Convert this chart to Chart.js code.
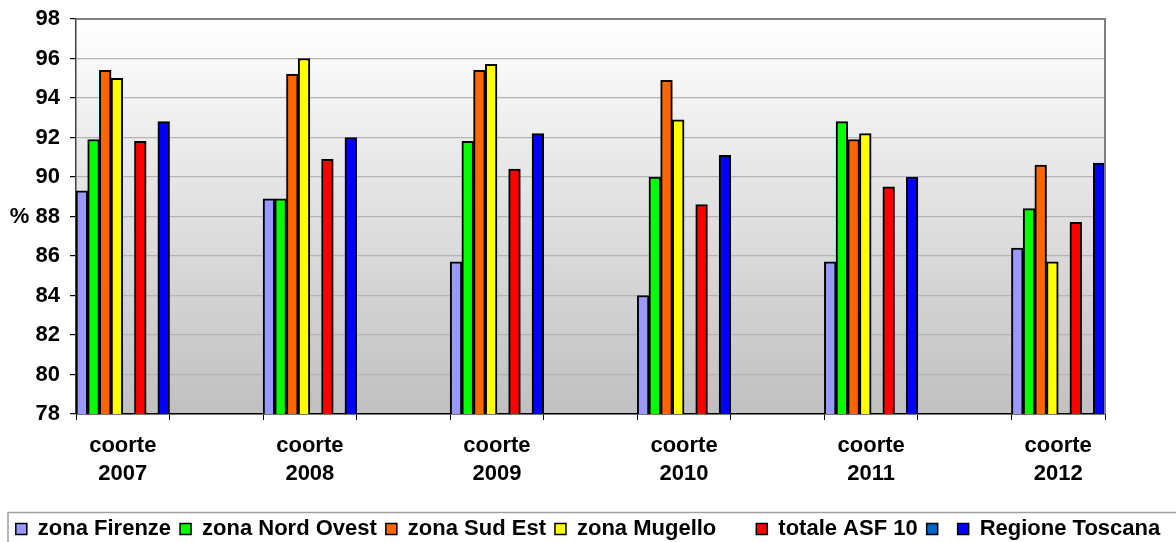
<!DOCTYPE html>
<html>
<head>
<meta charset="utf-8">
<script src="https://cdn.jsdelivr.net/npm/chart.js@4"></script>
<style>
  body { margin: 0; background: #fff; }
  #wrap { width: 1176px; height: 542px; position: relative; }
</style>
</head>
<body>
<div id="wrap"><canvas id="myChart"></canvas></div>
<script>
// data
var cohorts = ['2007', '2008', '2009', '2010', '2011', '2012'];
var firenze   = [89.3, 88.9, 85.7, 84.0, 85.7, 86.4];
var nordOvest = [91.9, 88.9, 91.8, 90.0, 92.8, 88.4];
var sudEst    = [95.4, 95.2, 95.4, 94.9, 91.9, 90.6];
var mugello   = [95.0, 96.0, 95.7, 92.9, 92.2, 85.7];
var totaleAsf = [91.8, 90.9, 90.4, 88.6, 89.5, 87.7];
var regione   = [92.8, 92.0, 92.2, 91.1, 90.0, 90.7];
var yTicks = [78, 80, 82, 84, 86, 88, 90, 92, 94, 96, 98];

// every cohort is followed by an empty slot
var labels = [];
cohorts.forEach(function (c, i) {
  labels.push(['coorte', c]);
  if (i < cohorts.length - 1) labels.push('');
});
function spread(arr) {
  var out = [];
  arr.forEach(function (v, i) {
    out.push(v);
    if (i < arr.length - 1) out.push(null);
  });
  return out;
}
var empty = spread(cohorts.map(function () { return null; }));

var FONT = { family: 'Arial, "Liberation Sans", sans-serif', size: 22, weight: 'bold', lineHeight: 1.27 };

var plotFrame = {
  id: 'plotFrame',
  beforeDraw: function (c) {
    var a = c.chartArea, ctx = c.ctx;
    var g = ctx.createLinearGradient(0, a.top, 0, a.bottom);
    g.addColorStop(0, '#ffffff');
    g.addColorStop(1, '#c0c0c0');
    ctx.save();
    ctx.fillStyle = g;
    ctx.fillRect(a.left, a.top, a.right - a.left, a.bottom - a.top);
    ctx.restore();
  },
  afterDraw: function (c) {
    var a = c.chartArea, ctx = c.ctx;
    ctx.save();
    ctx.strokeStyle = '#808080';
    ctx.lineWidth = 2;
    ctx.beginPath();
    ctx.moveTo(a.left, a.top);
    ctx.lineTo(a.right, a.top);
    ctx.lineTo(a.right, a.bottom);
    ctx.stroke();
    // legend frame
    var l = c.legend;
    ctx.strokeStyle = '#a0a0a0';
    ctx.lineWidth = 1.5;
    ctx.strokeRect(8, l.top + 3.5, 1200, 100);
    ctx.restore();
  }
};

var ctx = document.getElementById('myChart').getContext('2d');
var myChart = new Chart(ctx, {
  type: 'bar',
  data: {
    labels: labels,
    datasets: [
      { label: 'zona Firenze', data: spread(firenze), backgroundColor: '#9999ff' },
      { label: 'zona Nord Ovest', data: spread(nordOvest), backgroundColor: '#00ff00' },
      { label: 'zona Sud Est', data: spread(sudEst), backgroundColor: '#ff6600' },
      { label: 'zona Mugello', data: spread(mugello), backgroundColor: '#ffff00' },
      { label: '', data: empty, backgroundColor: 'rgba(0,0,0,0)', borderColor: 'rgba(0,0,0,0)' },
      { label: 'totale ASF 10', data: spread(totaleAsf), backgroundColor: '#ff0000' },
      { label: '', data: empty, backgroundColor: '#0066cc' },
      { label: 'Regione Toscana', data: spread(regione), backgroundColor: '#0000ff' }
    ]
  },
  options: {
    responsive: true,
    maintainAspectRatio: false,
    animation: false,
    layout: { padding: { top: 0, right: 0, bottom: -8, left: 0 } },
    datasets: {
      bar: {
        categoryPercentage: 1,
        barPercentage: 1,
        borderColor: '#000000',
        borderWidth: 2
      }
    },
    scales: {
      x: {
        grid: { offset: true, drawOnChartArea: false, tickLength: 6, tickColor: '#000', tickWidth: 1 },
        border: { color: '#000', width: 1.5 },
        ticks: {
          color: '#000', font: FONT, padding: 12, maxRotation: 0, autoSkip: false
        },
        afterFit: function (s) { s.height = 95; }
      },
      y: {
        min: 78,
        max: 98,
        afterBuildTicks: function (s) {
          s.ticks = yTicks.map(function (v) { return { value: v }; });
        },
        grid: { color: '#b4b4b4', tickLength: 6, tickColor: '#000', lineWidth: 1.2 },
        border: { color: '#404040', width: 1.5 },
        ticks: {
          color: '#000', font: FONT, padding: 10,
          callback: function (v) { return v === 88 ? '% 88' : String(v); }
        },
        afterFit: function (s) {
          s.width = 76;
          s.paddingTop = 19;
          s.paddingBottom = 0;
        }
      },
      // empty right axis: keeps the plot clear of the right edge
      yRight: {
        position: 'right',
        display: true,
        grid: { display: false },
        border: { display: false },
        ticks: { display: false },
        afterFit: function (s) { s.width = 71; }
      }
    },
    plugins: {
      title: { display: false },
      tooltip: { enabled: false },
      legend: {
        position: 'bottom',
        labels: {
          color: '#000',
          font: { family: FONT.family, size: 22, weight: 'bold' },
          boxWidth: 11,
          boxHeight: 11,
          padding: 9,
          generateLabels: function (chart) {
            var items = Chart.defaults.plugins.legend.labels.generateLabels(chart);
            items.forEach(function (it, i) {
              var ds = chart.data.datasets[i];
              it.fillStyle = ds.backgroundColor;
              it.strokeStyle = i === 4 ? 'rgba(0,0,0,0)' : '#000';
              it.lineWidth = 1.5;
            });
            return items;
          }
        }
      }
    }
  },
  plugins: [plotFrame]
});
</script>
</body>
</html>
